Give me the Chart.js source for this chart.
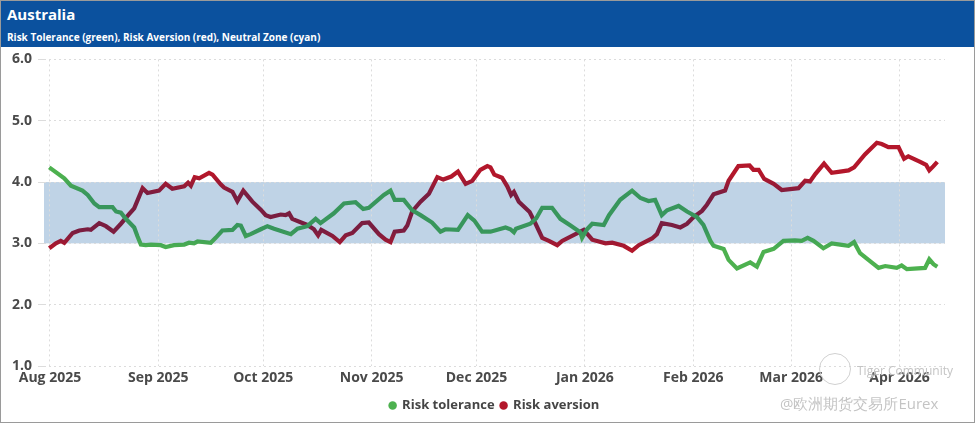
<!DOCTYPE html>
<html>
<head>
<meta charset="utf-8">
<script src="https://cdn.jsdelivr.net/npm/chart.js@4/dist/chart.umd.min.js"></script>
<style>
  body { margin: 0; background: #fff; font-family: "Open Sans", sans-serif; }
  #frame { position: relative; width: 973px; height: 421px; border: 1px solid #9a9a9a; overflow: hidden; }
  #head { position: absolute; left: 0; top: 0; width: 973px; height: 46px; background: #0b519e; color: #fff; }
  #title { position: absolute; left: 6px; top: 3px; font-size: 15px; font-weight: 700; }
  #sub { position: absolute; left: 6px; top: 29px; font-size: 10px; font-weight: 700; }
  #wrap { position: absolute; left: -1px; top: 44px; width: 975px; height: 377px; }
  .wm { position: absolute; color: #c4c4c4; text-shadow: 0 0 2px #fff; pointer-events: none; }
  #logo { position: absolute; left: 818px; top: 352px; width: 30px; height: 30px; border: 1.5px solid #d0d0d0; border-radius: 50%; }
</style>
</head>
<body>
<div id="frame">
  <div id="head">
    <div id="title">Australia</div>
    <div id="sub">Risk Tolerance (green), Risk Aversion (red), Neutral Zone (cyan)</div>
  </div>
  <div id="wrap"><canvas id="chart"></canvas></div>
  <div id="logo"></div>
  <div class="wm" style="left:856px; top:361px; font-size:12px;">Tiger Community</div>
  <div class="wm" style="left:779px; top:392px; font-size:15px;">@欧洲期货交易所Eurex</div>
</div>
<script>
// days counted from 1 Aug 2025
const monthDays = [0, 31, 61, 92, 122, 153, 184, 212, 243];
const monthLabels = ["Aug 2025", "Sep 2025", "Oct 2025", "Nov 2025", "Dec 2025", "Jan 2026", "Feb 2026", "Mar 2026", "Apr 2026"];
const yTicks = [1, 2, 3, 4, 5, 6];
const neutralZone = [3, 4];

const toleranceDays = [-0.2, 4.1, 6, 9.3, 10.8, 12.7, 14.1, 17.9, 18.9, 20.3, 21.7, 24.1, 25, 26, 27.4, 28.9, 31.7, 33.1, 35.5, 38.4, 39.8, 41.2, 42.2, 46, 47.4, 49.3, 52.2, 53.6, 54.6, 56, 57.4, 60.3, 62.2, 64.1, 68.9, 70.8, 73.6, 76, 77.4, 81.2, 84.1, 87.4, 89.6, 91.2, 95.5, 97.4, 98.6, 101.2, 103.6, 106, 109.3, 111.7, 113.1, 116.7, 119.5, 121.4, 123.6, 126, 130.3, 131.7, 132.7, 133.3, 137.4, 139.1, 140.8, 143.6, 146, 148.9, 151.7, 152.2, 153.6, 155.1, 158.4, 159.9, 163.1, 166.5, 168.9, 171.2, 173.1, 175, 176.5, 179.8, 182.2, 185, 186.9, 188.9, 189.8, 192.7, 194.1, 196.5, 200.3, 202.2, 204.1, 207, 209.8, 213.1, 215, 216.7, 218.4, 221.2, 223.6, 226, 228.4, 230, 231.7, 234.1, 237, 238.9, 242.2, 243.6, 245.1, 250.3, 251.5, 252.7, 253.8];
const toleranceValues = [4.24, 4.06, 3.94, 3.86, 3.79, 3.65, 3.59, 3.59, 3.52, 3.5, 3.4, 3.26, 3.12, 2.98, 2.97, 2.98, 2.97, 2.94, 2.97, 2.98, 3.01, 3.0, 3.03, 3.01, 3.09, 3.21, 3.22, 3.3, 3.29, 3.12, 3.15, 3.23, 3.28, 3.24, 3.15, 3.24, 3.28, 3.4, 3.33, 3.49, 3.65, 3.67, 3.56, 3.58, 3.79, 3.86, 3.71, 3.71, 3.54, 3.46, 3.34, 3.19, 3.23, 3.22, 3.46, 3.37, 3.19, 3.19, 3.26, 3.23, 3.18, 3.24, 3.32, 3.41, 3.58, 3.58, 3.4, 3.29, 3.18, 3.09, 3.23, 3.32, 3.3, 3.46, 3.71, 3.86, 3.74, 3.69, 3.71, 3.46, 3.54, 3.61, 3.52, 3.43, 3.3, 3.04, 2.96, 2.91, 2.73, 2.59, 2.69, 2.62, 2.86, 2.91, 3.04, 3.05, 3.04, 3.09, 3.04, 2.92, 3.0, 2.98, 2.96, 3.02, 2.84, 2.73, 2.6, 2.63, 2.6, 2.64, 2.58, 2.6, 2.74, 2.66, 2.62];

const aversionDays = [-0.2, 1.7, 3.1, 4.1, 6.5, 8.4, 10.8, 11.7, 14.1, 16, 18.2, 20.3, 22.7, 24.1, 26.5, 27.9, 31.2, 33.1, 35, 38.4, 39.5, 40.3, 41.4, 42.7, 45.5, 46.5, 48.9, 49.8, 52.2, 53.6, 55.3, 57.9, 60.3, 61.7, 63.1, 66, 67.4, 68.4, 69.3, 73.6, 75.5, 76.7, 77.6, 80.8, 82.9, 84.6, 86.5, 89.3, 91.2, 94.1, 96, 97.4, 98.6, 101.2, 102.2, 103.6, 106, 108.4, 110.8, 112.5, 114.8, 116.7, 118.9, 120.8, 123.1, 125.1, 126, 127.1, 129.3, 130.8, 131.9, 132.7, 134.1, 137.2, 138.9, 140.8, 142.7, 145.1, 146.5, 151.7, 152.7, 155.1, 158.9, 160.8, 164.1, 166.5, 168.4, 172.2, 173.6, 175, 177.9, 180.3, 182.2, 184.1, 186.5, 187.9, 189.8, 193.1, 194.1, 196.9, 200.1, 201.2, 202.7, 204.3, 207, 209.3, 214.1, 216, 217.4, 218.9, 221.4, 223.6, 226, 228.4, 230, 233.1, 236.5, 237.9, 239.8, 242.7, 244.3, 245.5, 248.9, 250.6, 251.5, 252.7, 253.8];
const aversionValues = [2.92, 3.0, 3.04, 3.01, 3.17, 3.21, 3.23, 3.22, 3.33, 3.28, 3.19, 3.32, 3.48, 3.57, 3.9, 3.82, 3.86, 3.97, 3.89, 3.93, 3.99, 3.94, 4.08, 4.06, 4.15, 4.12, 3.96, 3.91, 3.84, 3.69, 3.86, 3.68, 3.55, 3.46, 3.43, 3.47, 3.46, 3.49, 3.4, 3.3, 3.23, 3.13, 3.22, 3.12, 3.02, 3.13, 3.17, 3.33, 3.34, 3.15, 3.06, 3.02, 3.19, 3.21, 3.29, 3.52, 3.68, 3.81, 4.08, 4.04, 4.09, 4.17, 3.97, 4.02, 4.2, 4.26, 4.24, 4.12, 4.07, 3.93, 3.79, 3.84, 3.68, 3.51, 3.32, 3.09, 3.04, 2.97, 3.04, 3.19, 3.22, 3.06, 3.0, 3.01, 2.96, 2.88, 2.97, 3.08, 3.15, 3.33, 3.3, 3.26, 3.32, 3.43, 3.53, 3.63, 3.8, 3.86, 4.02, 4.26, 4.27, 4.2, 4.2, 4.05, 3.97, 3.87, 3.9, 4.02, 4.01, 4.13, 4.3, 4.15, 4.17, 4.19, 4.24, 4.45, 4.64, 4.62, 4.57, 4.57, 4.38, 4.42, 4.33, 4.28, 4.19, 4.26, 4.33];

const pts = (xs, ys) => xs.map((x, i) => ({ x: x, y: ys[i] }));

// colour darkens while the line is inside the neutral zone
function zoneGradient(outer, inner) {
  return (ctx) => {
    const chart = ctx.chart;
    const area = chart.chartArea;
    if (!area) return outer;
    const y = chart.scales.y;
    const g = chart.ctx.createLinearGradient(0, area.top, 0, area.bottom);
    const f = v => Math.min(1, Math.max(0, (y.getPixelForValue(v) - area.top) / (area.bottom - area.top)));
    g.addColorStop(0, outer);
    g.addColorStop(f(4.1), outer);
    g.addColorStop(f(3.8), inner);
    g.addColorStop(f(3.2), inner);
    g.addColorStop(f(2.9), outer);
    g.addColorStop(1, outer);
    return g;
  };
}

const bandPlugin = {
  id: "band",
  beforeDraw(chart) {
    const { ctx, chartArea, scales } = chart;
    const top = scales.y.getPixelForValue(neutralZone[1]);
    const bot = scales.y.getPixelForValue(neutralZone[0]);
    ctx.save();
    ctx.fillStyle = "#bfd3e6";
    ctx.fillRect(chartArea.left, top, chartArea.right - chartArea.left, bot - top);
    ctx.restore();
  }
};

Chart.defaults.font.family = "'Open Sans', sans-serif";
Chart.defaults.font.weight = "bold";

const chart = new Chart(document.getElementById("chart"), {
  type: "line",
  data: {
    datasets: [
      {
        label: "Risk tolerance",
        data: pts(toleranceDays, toleranceValues),
        borderColor: zoneGradient("#4db14f", "#38965c"),
        backgroundColor: "#4db14f",
        borderWidth: 4.2,
        pointRadius: 0,
        tension: 0
      },
      {
        label: "Risk aversion",
        data: pts(aversionDays, aversionValues),
        borderColor: zoneGradient("#b3172b", "#7a1d40"),
        backgroundColor: "#b3172b",
        borderWidth: 4.2,
        pointRadius: 0,
        tension: 0
      }
    ]
  },
  options: {
    responsive: true,
    maintainAspectRatio: false,
    animation: false,
    layout: { padding: { top: 9, right: 30, bottom: 0, left: 0 } },
    plugins: {
      legend: {
        position: "bottom",
        fullSize: false,
        labels: {
          usePointStyle: true,
          pointStyle: "circle",
          boxWidth: 6,
          boxHeight: 6,
          padding: 6,
          color: "#454545",
          font: { size: 13, weight: "bold" },
          generateLabels: (c) => Chart.defaults.plugins.legend.labels.generateLabels(c).map(l => {
            l.lineWidth = 0;
            l.strokeStyle = l.fillStyle;
            return l;
          })
        }
      },
      tooltip: { enabled: false }
    },
    scales: {
      x: {
        type: "linear",
        min: -1.7,
        max: 256,
        afterBuildTicks: (s) => { s.ticks = monthDays.map(v => ({ value: v })); },
        afterFit: (s) => { s.height = 27; },
        ticks: {
          callback: (v) => monthLabels[monthDays.indexOf(v)],
          color: "#4a4a4a",
          font: { size: 14, weight: "bold" },
          maxRotation: 0,
          autoSkip: false,
          padding: 4
        },
        grid: { color: "#dcdcdc", drawTicks: false },
        border: { display: false, dash: [2, 3] }
      },
      y: {
        min: 1,
        max: 6,
        afterBuildTicks: (s) => { s.ticks = yTicks.map(v => ({ value: v })); },
        afterFit: (s) => { s.width = 44; },
        ticks: {
          callback: (v) => v.toFixed(1),
          color: "#4a4a4a",
          font: { size: 14, weight: "bold" },
          padding: 6
        },
        grid: { color: "#dcdcdc", tickLength: 6 },
        border: { display: false, dash: [2, 3] }
      }
    }
  },
  plugins: [bandPlugin]
});
</script>
</body>
</html>
